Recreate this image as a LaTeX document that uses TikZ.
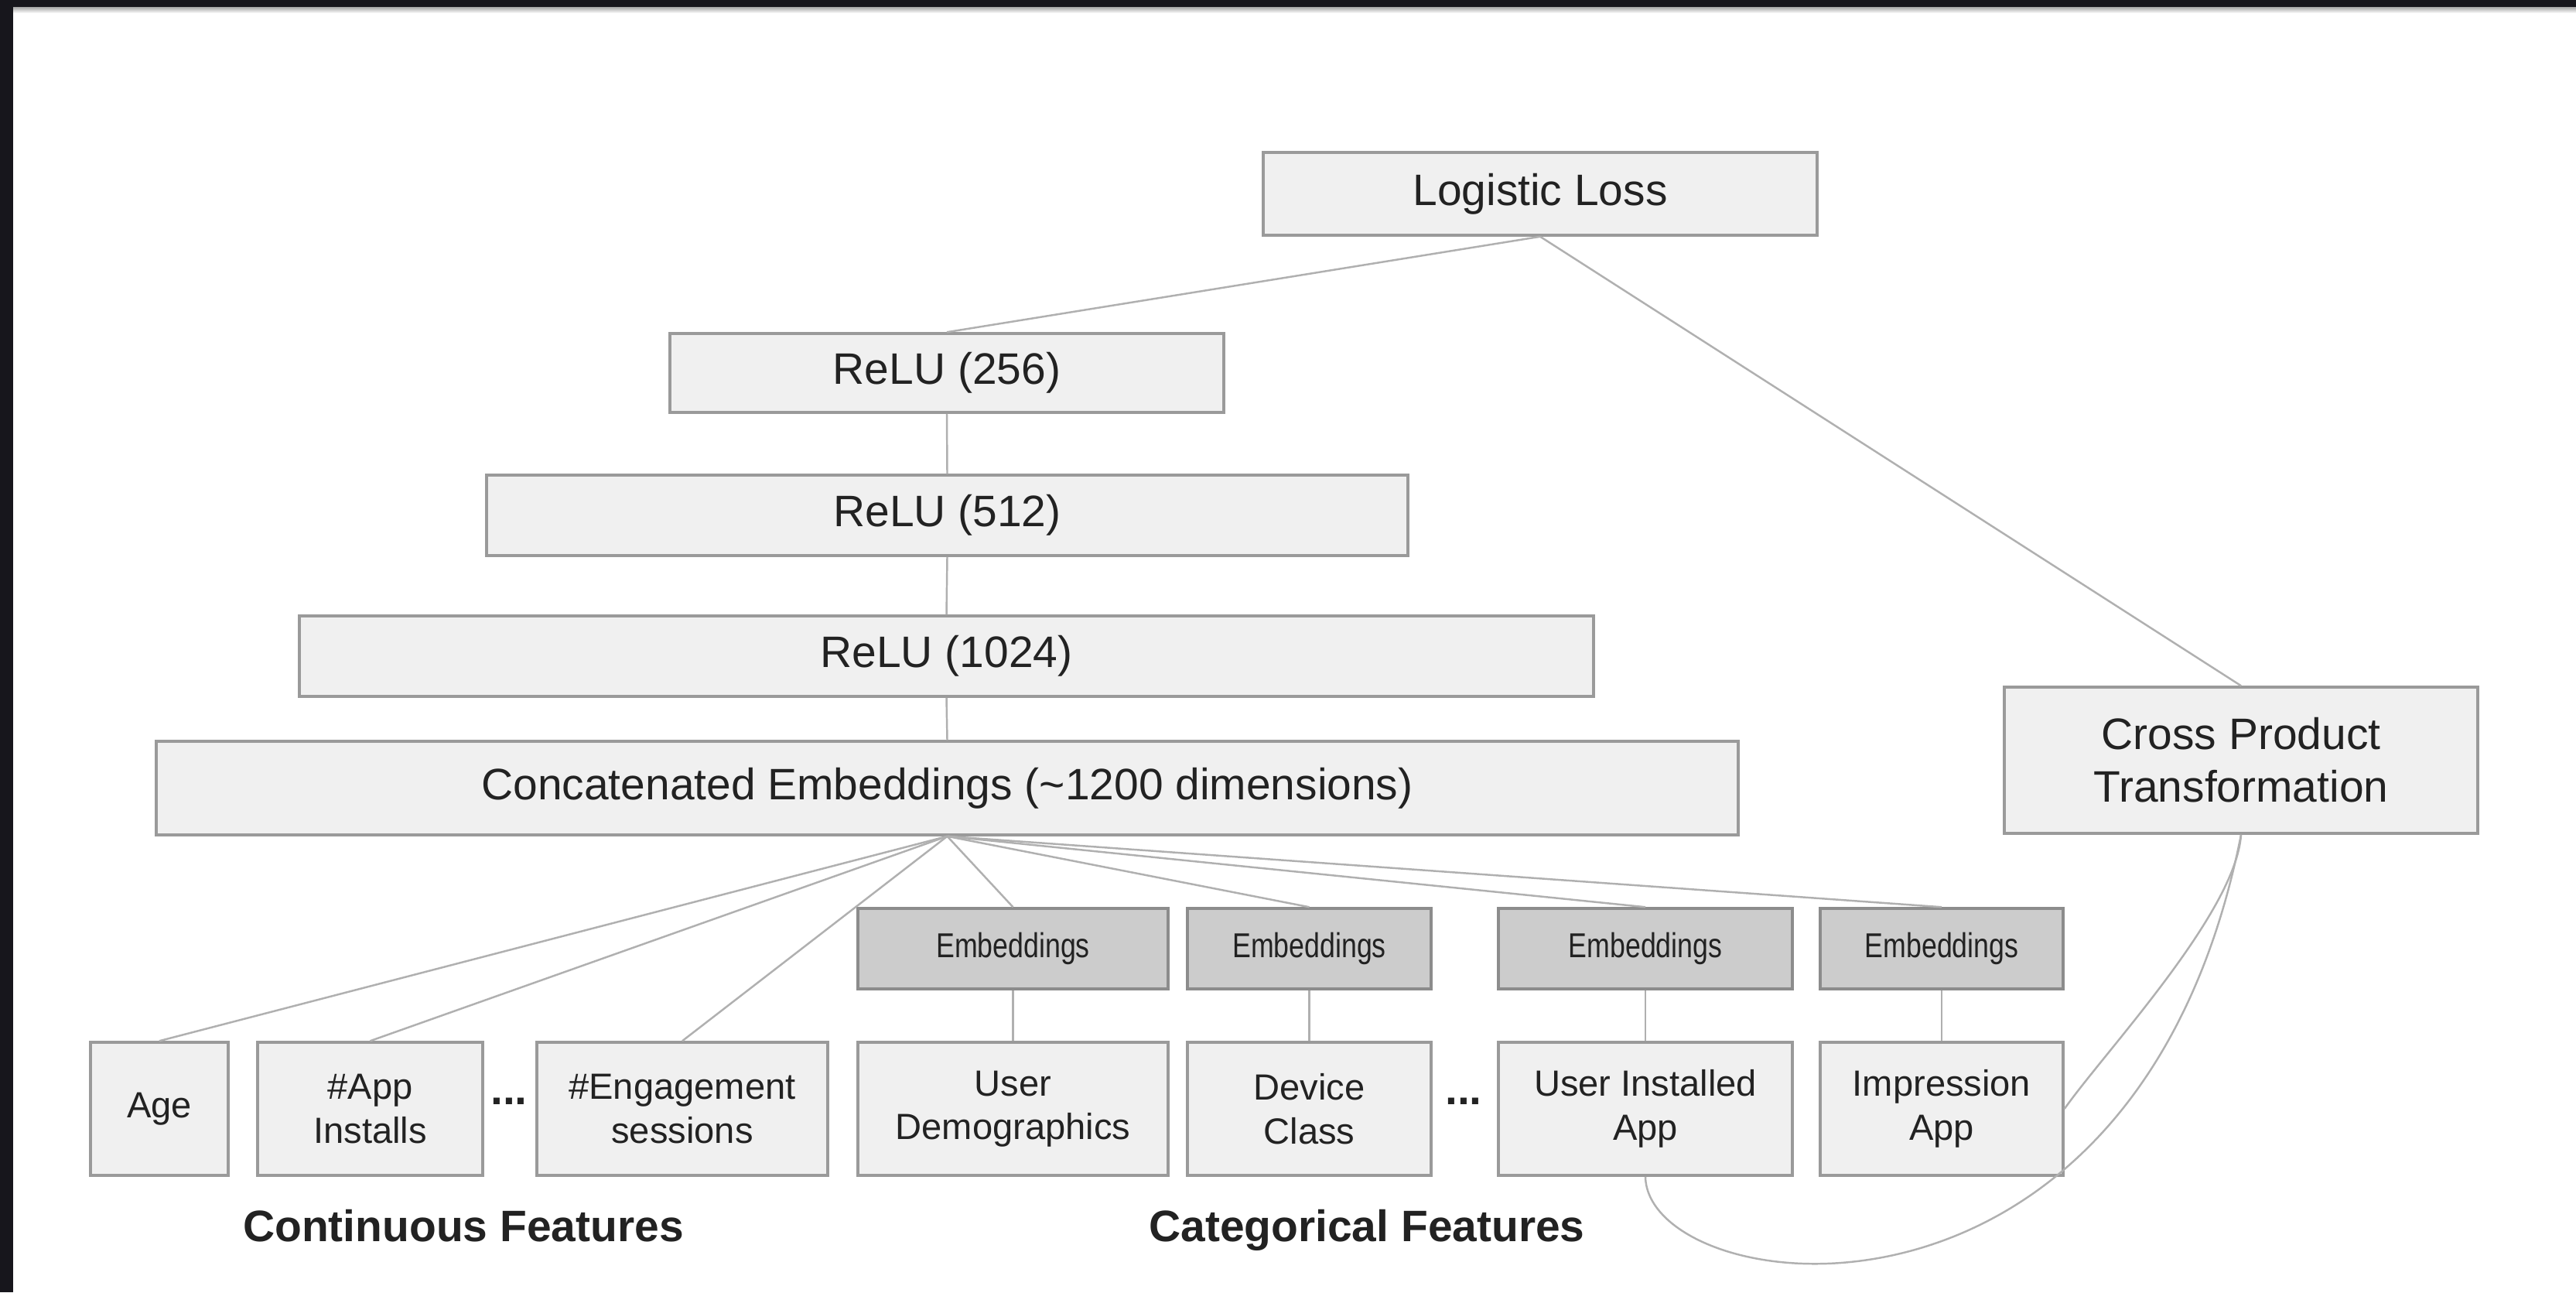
\documentclass[tikz,border=0pt]{standalone}
\usepackage{fontspec}
\setmainfont{Liberation Sans}
\newfontfamily\narrowfont[FakeStretch=0.8]{Liberation Sans}
\definecolor{boxfill}{HTML}{F0F0F0}
\definecolor{boxline}{HTML}{9A9A9A}
\definecolor{embfill}{HTML}{CCCCCC}
\definecolor{embline}{HTML}{8C8C8C}
\definecolor{linkgray}{HTML}{B0B0B0}
\definecolor{ink}{HTML}{222222}
\definecolor{frame}{HTML}{17161C}
\begin{document}
\begin{tikzpicture}[
	layer/.style={draw=boxline, fill=boxfill, line width=1pt, inner sep=0pt, text=ink, align=center, font=\fontsize{16.2}{19.4}\selectfont},
	feature/.style={layer, font=\fontsize{13.4}{16.1}\selectfont},
	embed/.style={layer, fill=embfill, draw=embline, font=\narrowfont\fontsize{12.7}{15}\selectfont},
	link/.style={draw=linkgray, line width=0.7pt},
	group/.style={text=ink, font=\bfseries\fontsize{16.2}{19.4}\selectfont}]
	\useasboundingbox (0, 0) rectangle (33.30, -16.70);
	\fill[white] (0, 0) rectangle (33.30, -16.70);
	% dark frame of the screenshot
	\shade[top color=gray!70, bottom color=white] (0.17, -0.09) rectangle (33.30, -0.17);
	\fill[frame] (0, 0) rectangle (33.30, -0.09);
	\fill[frame] (0, 0) rectangle (0.17, -16.70);

	% deep part
	\node[layer, minimum width=7.16cm, minimum height=1.07cm] (loss) at (19.91, -2.505) {Logistic Loss};
	\node[layer, minimum width=7.16cm, minimum height=1.02cm] (relu256) at (12.24, -4.82) {ReLU (256)};
	\node[layer, minimum width=11.91cm, minimum height=1.04cm] (relu512) at (12.245, -6.66) {ReLU (512)};
	\node[layer, minimum width=16.73cm, minimum height=1.04cm] (relu1024) at (12.235, -8.48) {ReLU (1024)};
	\node[layer, minimum width=20.45cm, minimum height=1.21cm] (concat) at (12.245, -10.185) {Concatenated Embeddings (\textasciitilde1200 dimensions)};
	\node[layer, minimum width=6.12cm, minimum height=1.89cm] (cross) at (28.97, -9.825) {Cross Product\\Transformation};

	% embeddings
	\node[embed, minimum width=4.01cm, minimum height=1.04cm] (emb1) at (13.095, -12.26) {Embeddings};
	\node[embed, minimum width=3.15cm, minimum height=1.04cm] (emb2) at (16.925, -12.26) {Embeddings};
	\node[embed, minimum width=3.80cm, minimum height=1.04cm] (emb3) at (21.27, -12.26) {Embeddings};
	\node[embed, minimum width=3.14cm, minimum height=1.04cm] (emb4) at (25.10, -12.26) {Embeddings};

	% input features
	\node[feature, minimum width=1.78cm, minimum height=1.72cm] (age) at (2.06, -14.33) {Age};
	\node[feature, minimum width=2.91cm, minimum height=1.72cm] (installs) at (4.785, -14.33) {\#App\\Installs};
	\node[feature, minimum width=3.76cm, minimum height=1.72cm] (sessions) at (8.82, -14.33) {\#Engagement\\sessions};
	\node[feature, minimum width=4.01cm, minimum height=1.72cm] (demo) at (13.095, -14.33) {User\\Demographics};
	\node[feature, minimum width=3.15cm, minimum height=1.72cm] (device) at (16.925, -14.33) {Device\\Class};
	\node[feature, minimum width=3.80cm, minimum height=1.72cm] (userapp) at (21.27, -14.33) {User Installed\\App};
	\node[feature, minimum width=3.14cm, minimum height=1.72cm] (impapp) at (25.10, -14.33) {Impression\\App};
	\node[group] (dots1) at (6.58, -14.23) {...};
	\node[group] (dots2) at (18.92, -14.23) {...};
	\node[group, anchor=base] (contlabel) at (5.99, -16.04) {Continuous Features};
	\node[group, anchor=base] (catlabel) at (17.67, -16.04) {Categorical Features};

	% connectors
	\draw[link] (loss.south) -- (relu256.north);
	\draw[link] (loss.south) -- (cross.north);
	\draw[link] (relu256.south) -- (relu512.north);
	\draw[link] (relu512.south) -- (relu1024.north);
	\draw[link] (relu1024.south) -- (concat.north);
	\draw[link] (concat.south) -- (age.north);
	\draw[link] (concat.south) -- (installs.north);
	\draw[link] (concat.south) -- (sessions.north);
	\draw[link] (concat.south) -- (emb1.north);
	\draw[link] (concat.south) -- (emb2.north);
	\draw[link] (concat.south) -- (emb3.north);
	\draw[link] (concat.south) -- (emb4.north);
	\draw[link] (emb1.south) -- (demo.north);
	\draw[link] (emb2.south) -- (device.north);
	\draw[link] (emb3.south) -- (userapp.north);
	\draw[link] (emb4.south) -- (impapp.north);
	\draw[link] (cross.south) .. controls (28.90, -11.80) and (27.20, -13.60) .. (impapp.east);
	\draw[link] (userapp.south) .. controls (21.30, -16.80) and (27.60, -17.70) .. (cross.south);
\end{tikzpicture}
\end{document}
